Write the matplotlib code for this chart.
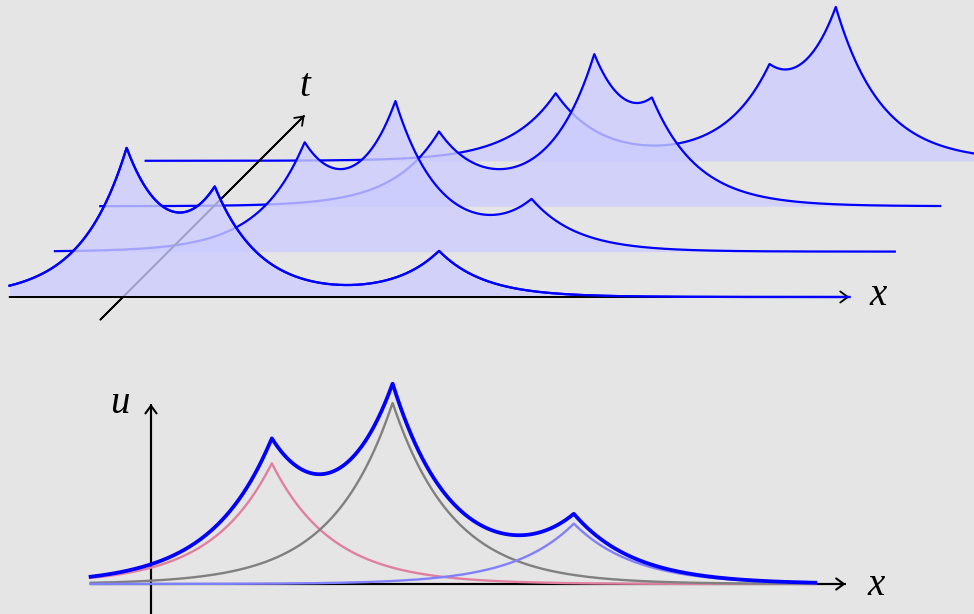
import numpy as np
import matplotlib
matplotlib.use("Agg")
import matplotlib.pyplot as plt

# ---------------- data ----------------
# top panel: peakon profiles at successive times (x positions / amplitudes in length units)
times = [0, 1, 2, 3]
top_positions = [
    [0.08, 2.02, 6.96],
    [3.0, 5.0, 8.0],
    [4.96, 8.38, 9.65],
    [6.53, 11.24, 12.70],
]
top_amplitudes = [
    [3.0, 2.0, 1.0],
    [2.0, 3.0, 1.0],
    [1.54, 2.86, 1.58],
    [1.47, 1.41, 3.06],
]
top_x_range = [-2.5, 16.0]

# bottom panel: one profile and its three components
bottom_positions = [2.0, 4.0, 7.0]
bottom_amplitudes = [2.0, 3.0, 1.0]
bottom_x_range = [-1.0, 11.0]
component_colors = ["#e0809e", "#808080", "#8080ff"]

# ---------------- figure ----------------
BG = "#e5e5e5"
W, H = 974, 614
fig = plt.figure(figsize=(W / 100, H / 100), dpi=100, facecolor=BG)

# top axes: origin at px (123, 297), unit 45.4 px
split = 340
u_top = 45.4
ox_t, oy_t = 123, 297
ax1 = fig.add_axes([0, (H - split) / H, 1, split / H])
ax1.set_xlim((0 - ox_t) / u_top, (W - ox_t) / u_top)
ax1.set_ylim((oy_t - split) / u_top, oy_t / u_top)
ax1.axis("off")
ax1.patch.set_alpha(0)

# bottom axes: origin at px (151, 584), unit 60.4 px
u_bot = 60.4
ox_b, oy_b = 151, 584
ax2 = fig.add_axes([0, 0, 1, (H - split) / H])
ax2.set_xlim((0 - ox_b) / u_bot, (W - ox_b) / u_bot)
ax2.set_ylim((oy_b - H) / u_bot, (oy_b - split) / u_bot)
ax2.axis("off")
ax2.patch.set_alpha(0)


def profile(x, pos, amp):
    x = np.asarray(x)
    return sum(a * np.exp(-np.abs(x - q)) for q, a in zip(pos, amp))


def arrow(ax, start, end, lw=1.2, zorder=3):
    ax.plot([start[0], end[0]], [start[1], end[1]], color="black", lw=lw,
            zorder=zorder, solid_capstyle="butt", clip_on=False)
    ax.annotate("", xy=end, xytext=start,
                arrowprops=dict(arrowstyle="->,head_length=0.55,head_width=0.4",
                                lw=lw, color="black", shrinkA=0, shrinkB=0),
                annotation_clip=False, zorder=zorder)


FILL = (0.8, 0.8, 1.0)
LINE = (0, 0, 1)
label_kw = dict(fontsize=28, fontstyle="italic", family=["Liberation Serif", "DejaVu Serif"],
                ha="center", va="baseline")

# ---------------- top panel ----------------
x = np.linspace(top_x_range[0], top_x_range[1], 3000)
for k in range(len(times) - 1, -1, -1):  # back to front
    t = times[k]
    y = profile(x, top_positions[k], top_amplitudes[k])
    z = 2 + (3 - k) * 2
    ax1.fill_between(x + t, t, y + t, color=FILL, alpha=0.8, lw=0, zorder=z)
    ax1.plot(x + t, y + t, color=LINE, lw=1.6, zorder=z + 1)

# time axis lies behind the front-most fill
arrow(ax1, (-0.5, -0.5), (4.0, 4.0), lw=1.3, zorder=7.5)
# x axis on top of everything, front profile over it
arrow(ax1, (top_x_range[0], 0), (top_x_range[1], 0), lw=1.3, zorder=20)
ax1.plot(x, profile(x, top_positions[0], top_amplitudes[0]), color=LINE, lw=1.6, zorder=21)

ax1.text(4.0, 4.43, "t", **label_kw)
ax1.text(16.63, -0.18, "x", **label_kw)

# ---------------- bottom panel ----------------
arrow(ax2, (-1.0, 0), (11.5, 0), lw=1.5)
arrow(ax2, (0.0, -0.5), (0.0, 2.98), lw=1.5)

xb = np.linspace(bottom_x_range[0], bottom_x_range[1], 3000)
for q, a, c in zip(bottom_positions, bottom_amplitudes, component_colors):
    ax2.plot(xb, a * np.exp(-np.abs(xb - q)), color=c, lw=1.7, zorder=5)
ax2.plot(xb, profile(xb, bottom_positions, bottom_amplitudes), color=LINE, lw=2.7, zorder=6)

ax2.text(-0.51, 2.83, "u", **label_kw)
ax2.text(12.0, -0.18, "x", **label_kw)

fig.savefig("out.png", dpi=100, facecolor=BG)
